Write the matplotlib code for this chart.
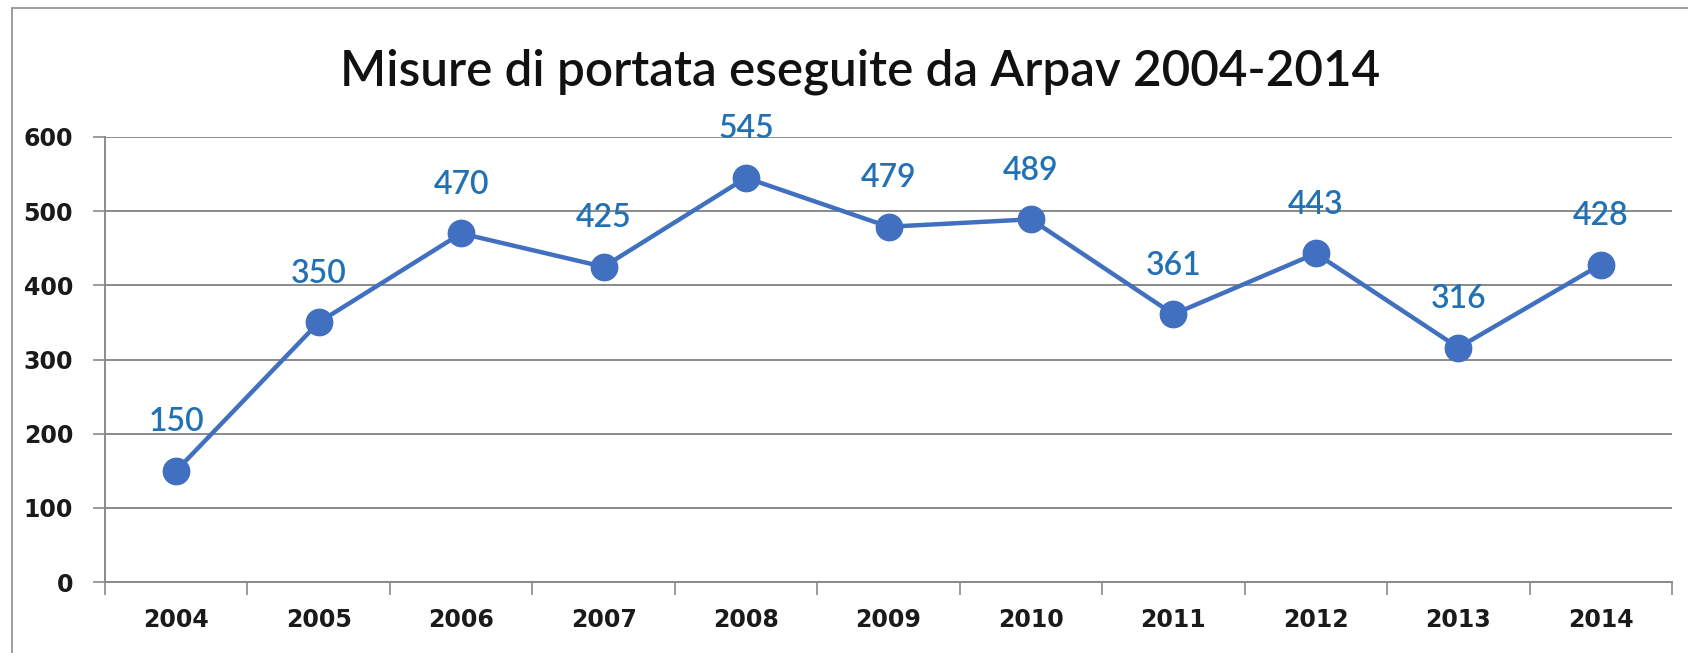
import matplotlib
matplotlib.use("Agg")
import matplotlib.pyplot as plt
from matplotlib.patches import Rectangle

years = ["2004", "2005", "2006", "2007", "2008", "2009", "2010", "2011", "2012", "2013", "2014"]
values = [150, 350, 470, 425, 545, 479, 489, 361, 443, 316, 428]
yticks = [0, 100, 200, 300, 400, 500, 600]
title = "Misure di portata eseguite da Arpav 2004-2014"

W, H = 1688, 653
fig = plt.figure(figsize=(W / 100, H / 100), dpi=100)
fig.patch.set_facecolor("white")

# outer chart frame
fig.patches.append(Rectangle((12 / W, -0.05), 1.1, (H - 8) / H + 0.05,
                             transform=fig.transFigure, fill=False,
                             edgecolor="#8c8c8c", linewidth=1.2))

ax = fig.add_axes([105 / W, (H - 582) / H, (1672 - 105) / W, (582 - 137) / H])
x = list(range(len(years)))
line_col = "#4070BF"
ax.plot(x, values, color=line_col, linewidth=3.2, marker="o", markersize=19,
        markerfacecolor=line_col, markeredgecolor=line_col, zorder=3, clip_on=False)

for xi, v in zip(x, values):
    ax.annotate(str(v), (xi, v), xytext=(0, 35), textcoords="offset points",
                ha="center", va="center", fontsize=23, color="#2271B5",
                family="Lato", fontweight="semibold", zorder=4)

ax.set_xlim(-0.5, len(years) - 0.5)
ax.set_ylim(0, 600)
ax.set_yticks(yticks)
ax.set_yticklabels([str(t) for t in yticks], family="DejaVu Sans",
                   fontweight="bold", fontsize=17, color="#1a1a1a")
ax.yaxis.grid(True, color="#8a8a8a", linewidth=1.4)
ax.set_axisbelow(True)

# category labels centered, ticks at boundaries
ax.set_xticks(x)
ax.set_xticklabels(years, family="DejaVu Sans", fontweight="bold",
                   fontsize=17, color="#1a1a1a")
ax.tick_params(axis="x", which="major", length=0, pad=19)
ax.set_xticks([i - 0.5 for i in range(len(years) + 1)], minor=True)
ax.tick_params(axis="x", which="minor", length=9, width=1.2, color="#8a8a8a",
               direction="out")
ax.tick_params(axis="y", length=9, width=1.2, color="#8a8a8a", pad=14)

for s in ["top", "right"]:
    ax.spines[s].set_visible(False)
for s in ["left", "bottom"]:
    ax.spines[s].set_color("#8a8a8a")
    ax.spines[s].set_linewidth(1.4)

fig.text(860 / W, (H - 72) / H, title, ha="center", va="center",
         fontsize=35.6, family="Lato", fontweight="semibold", color="#111111")

fig.savefig("out.png", dpi=100, facecolor="white")
